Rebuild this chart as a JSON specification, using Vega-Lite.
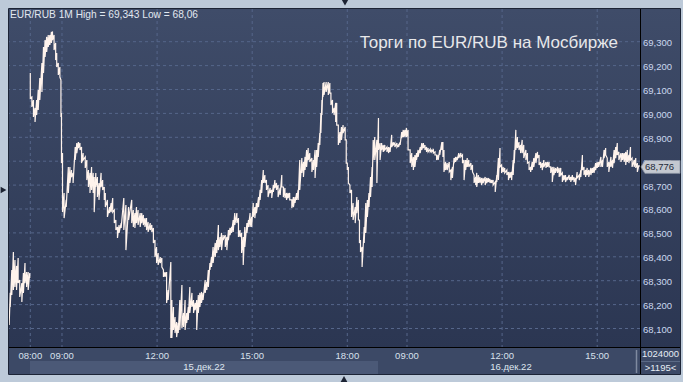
{
 "$schema": "https://vega.github.io/schema/vega-lite/v6.json",
 "width": 631,
 "height": 338,
 "autosize": {"type": "none"},
 "padding": {"left": 9, "top": 9, "right": 43, "bottom": 35},
 "background": "#bdcad9",
 "config": {"font": "Liberation Sans", "view": {"stroke": null, "fill": null}},
 "datasets": {
  "xt": [
   {"t": 0, "lab": "08:00"}, {"t": 60, "lab": "09:00"}, {"t": 240, "lab": "12:00"}, {"t": 420, "lab": "15:00"},
   {"t": 600, "lab": "18:00"}, {"t": 713, "lab": "09:00"}, {"t": 893, "lab": "12:00"}, {"t": 1073, "lab": "15:00"}
  ],
  "yt": [
   {"v": 68.1, "lab": "68,100"}, {"v": 68.2, "lab": "68,200"}, {"v": 68.3, "lab": "68,300"}, {"v": 68.4, "lab": "68,400"},
   {"v": 68.5, "lab": "68,500"}, {"v": 68.6, "lab": "68,600"}, {"v": 68.7, "lab": "68,700"}, {"v": 68.8, "lab": "68,800"},
   {"v": 68.9, "lab": "68,900"}, {"v": 69.0, "lab": "69,000"}, {"v": 69.1, "lab": "69,100"}, {"v": 69.2, "lab": "69,200"},
   {"v": 69.3, "lab": "69,300"}
  ],
  "px": [
   {"t":-40,"h":68.165,"l":68.115,"s":"a"},
   {"t":-38,"h":68.249,"l":68.190,"s":"a"},
   {"t":-35,"h":68.345,"l":68.240,"s":"a"},
   {"t":-32,"h":68.420,"l":68.261,"s":"a"},
   {"t":-29,"h":68.387,"l":68.274,"s":"a"},
   {"t":-26,"h":68.362,"l":68.261,"s":"a"},
   {"t":-23,"h":68.395,"l":68.290,"s":"a"},
   {"t":-20,"h":68.303,"l":68.232,"s":"a"},
   {"t":-16,"h":68.290,"l":68.211,"s":"a"},
   {"t":-13,"h":68.332,"l":68.249,"s":"a"},
   {"t":-10,"h":68.374,"l":68.290,"s":"a"},
   {"t":-7,"h":68.336,"l":68.274,"s":"a"},
   {"t":-4,"h":68.336,"l":68.261,"s":"a"},
   {"t":-1,"h":68.332,"l":68.311,"s":"a"},
   {"t":0,"h":69.169,"l":69.064,"s":"b"},
   {"t":3,"h":69.069,"l":69.027,"s":"b"},
   {"t":6,"h":69.056,"l":68.985,"s":"b"},
   {"t":9,"h":69.023,"l":68.964,"s":"b"},
   {"t":12,"h":69.056,"l":68.993,"s":"b"},
   {"t":15,"h":69.098,"l":69.014,"s":"b"},
   {"t":18,"h":69.148,"l":69.056,"s":"b"},
   {"t":22,"h":69.211,"l":69.090,"s":"b"},
   {"t":25,"h":69.278,"l":69.169,"s":"b"},
   {"t":28,"h":69.307,"l":69.236,"s":"b"},
   {"t":31,"h":69.320,"l":69.257,"s":"b"},
   {"t":34,"h":69.328,"l":69.278,"s":"b"},
   {"t":37,"h":69.328,"l":69.286,"s":"b"},
   {"t":40,"h":69.341,"l":69.295,"s":"b"},
   {"t":42,"h":69.343,"l":69.307,"s":"b"},
   {"t":45,"h":69.328,"l":69.265,"s":"b"},
   {"t":48,"h":69.295,"l":69.223,"s":"b"},
   {"t":50,"h":69.253,"l":69.194,"s":"b"},
   {"t":53,"h":69.211,"l":69.161,"s":"b"},
   {"t":56,"h":69.194,"l":69.152,"s":"b"},
   {"t":58,"h":69.140,"l":68.985,"s":"b"},
   {"t":59,"h":69.002,"l":68.792,"s":"b"},
   {"t":61,"h":68.834,"l":68.587,"s":"b"},
   {"t":64,"h":68.667,"l":68.562,"s":"b"},
   {"t":68,"h":68.638,"l":68.608,"s":"b"},
   {"t":72,"h":68.776,"l":68.667,"s":"b"},
   {"t":75,"h":68.776,"l":68.709,"s":"b"},
   {"t":78,"h":68.763,"l":68.734,"s":"b"},
   {"t":81,"h":68.751,"l":68.709,"s":"b"},
   {"t":85,"h":68.859,"l":68.805,"s":"b"},
   {"t":88,"h":68.876,"l":68.834,"s":"b"},
   {"t":91,"h":68.880,"l":68.855,"s":"b"},
   {"t":94,"h":68.876,"l":68.847,"s":"b"},
   {"t":97,"h":68.859,"l":68.792,"s":"b"},
   {"t":100,"h":68.834,"l":68.805,"s":"b"},
   {"t":104,"h":68.818,"l":68.772,"s":"b"},
   {"t":107,"h":68.805,"l":68.721,"s":"b"},
   {"t":110,"h":68.763,"l":68.692,"s":"b"},
   {"t":113,"h":68.751,"l":68.667,"s":"b"},
   {"t":116,"h":68.776,"l":68.680,"s":"b"},
   {"t":119,"h":68.751,"l":68.667,"s":"b"},
   {"t":121,"h":68.734,"l":68.587,"s":"b"},
   {"t":124,"h":68.751,"l":68.692,"s":"b"},
   {"t":127,"h":68.734,"l":68.650,"s":"b"},
   {"t":130,"h":68.709,"l":68.638,"s":"b"},
   {"t":134,"h":68.751,"l":68.692,"s":"b"},
   {"t":137,"h":68.721,"l":68.680,"s":"b"},
   {"t":140,"h":68.692,"l":68.638,"s":"b"},
   {"t":142,"h":68.667,"l":68.608,"s":"b"},
   {"t":146,"h":68.638,"l":68.567,"s":"b"},
   {"t":150,"h":68.608,"l":68.583,"s":"b"},
   {"t":153,"h":68.625,"l":68.587,"s":"b"},
   {"t":156,"h":68.646,"l":68.587,"s":"b"},
   {"t":159,"h":68.596,"l":68.541,"s":"b"},
   {"t":162,"h":68.554,"l":68.512,"s":"b"},
   {"t":165,"h":68.525,"l":68.479,"s":"b"},
   {"t":168,"h":68.533,"l":68.500,"s":"b"},
   {"t":172,"h":68.541,"l":68.521,"s":"b"},
   {"t":177,"h":68.646,"l":68.512,"s":"b"},
   {"t":181,"h":68.617,"l":68.428,"s":"b"},
   {"t":186,"h":68.608,"l":68.554,"s":"b"},
   {"t":192,"h":68.638,"l":68.541,"s":"b"},
   {"t":195,"h":68.596,"l":68.525,"s":"b"},
   {"t":198,"h":68.583,"l":68.521,"s":"b"},
   {"t":201,"h":68.608,"l":68.541,"s":"b"},
   {"t":204,"h":68.596,"l":68.533,"s":"b"},
   {"t":208,"h":68.583,"l":68.525,"s":"b"},
   {"t":211,"h":68.583,"l":68.541,"s":"b"},
   {"t":214,"h":68.575,"l":68.533,"s":"b"},
   {"t":217,"h":68.562,"l":68.525,"s":"b"},
   {"t":220,"h":68.562,"l":68.512,"s":"b"},
   {"t":223,"h":68.546,"l":68.504,"s":"b"},
   {"t":227,"h":68.541,"l":68.512,"s":"b"},
   {"t":230,"h":68.533,"l":68.504,"s":"b"},
   {"t":233,"h":68.521,"l":68.458,"s":"b"},
   {"t":236,"h":68.470,"l":68.399,"s":"b"},
   {"t":239,"h":68.441,"l":68.374,"s":"b"},
   {"t":242,"h":68.416,"l":68.366,"s":"b"},
   {"t":246,"h":68.399,"l":68.374,"s":"b"},
   {"t":249,"h":68.395,"l":68.357,"s":"b"},
   {"t":252,"h":68.345,"l":68.316,"s":"b"},
   {"t":255,"h":68.336,"l":68.316,"s":"b"},
   {"t":258,"h":68.336,"l":68.207,"s":"b"},
   {"t":261,"h":68.261,"l":68.219,"s":"b"},
   {"t":266,"h":68.378,"l":68.060,"s":"b"},
   {"t":268,"h":68.219,"l":68.060,"s":"b"},
   {"t":271,"h":68.190,"l":68.094,"s":"b"},
   {"t":274,"h":68.148,"l":68.081,"s":"b"},
   {"t":277,"h":68.127,"l":68.064,"s":"b"},
   {"t":280,"h":68.123,"l":68.081,"s":"b"},
   {"t":283,"h":68.219,"l":68.094,"s":"b"},
   {"t":287,"h":68.282,"l":68.102,"s":"b"},
   {"t":290,"h":68.165,"l":68.106,"s":"b"},
   {"t":293,"h":68.219,"l":68.094,"s":"b"},
   {"t":296,"h":68.165,"l":68.123,"s":"b"},
   {"t":299,"h":68.190,"l":68.136,"s":"b"},
   {"t":302,"h":68.274,"l":68.165,"s":"b"},
   {"t":306,"h":68.249,"l":68.190,"s":"b"},
   {"t":309,"h":68.219,"l":68.165,"s":"b"},
   {"t":312,"h":68.207,"l":68.177,"s":"b"},
   {"t":315,"h":68.219,"l":68.094,"s":"b"},
   {"t":318,"h":68.240,"l":68.165,"s":"b"},
   {"t":321,"h":68.249,"l":68.190,"s":"b"},
   {"t":324,"h":68.253,"l":68.207,"s":"b"},
   {"t":327,"h":68.249,"l":68.219,"s":"b"},
   {"t":331,"h":68.303,"l":68.249,"s":"b"},
   {"t":334,"h":68.295,"l":68.261,"s":"b"},
   {"t":337,"h":68.345,"l":68.274,"s":"b"},
   {"t":340,"h":68.374,"l":68.345,"s":"b"},
   {"t":343,"h":68.399,"l":68.357,"s":"b"},
   {"t":346,"h":68.441,"l":68.374,"s":"b"},
   {"t":350,"h":68.458,"l":68.399,"s":"b"},
   {"t":353,"h":68.470,"l":68.416,"s":"b"},
   {"t":356,"h":68.533,"l":68.428,"s":"b"},
   {"t":359,"h":68.483,"l":68.441,"s":"b"},
   {"t":362,"h":68.500,"l":68.428,"s":"b"},
   {"t":365,"h":68.491,"l":68.470,"s":"b"},
   {"t":369,"h":68.491,"l":68.441,"s":"b"},
   {"t":372,"h":68.483,"l":68.428,"s":"b"},
   {"t":375,"h":68.512,"l":68.470,"s":"b"},
   {"t":378,"h":68.521,"l":68.491,"s":"b"},
   {"t":381,"h":68.525,"l":68.500,"s":"b"},
   {"t":384,"h":68.554,"l":68.504,"s":"b"},
   {"t":387,"h":68.583,"l":68.533,"s":"b"},
   {"t":391,"h":68.583,"l":68.541,"s":"b"},
   {"t":394,"h":68.562,"l":68.483,"s":"b"},
   {"t":397,"h":68.512,"l":68.483,"s":"b"},
   {"t":400,"h":68.500,"l":68.416,"s":"b"},
   {"t":403,"h":68.483,"l":68.366,"s":"b"},
   {"t":406,"h":68.525,"l":68.441,"s":"b"},
   {"t":410,"h":68.541,"l":68.500,"s":"b"},
   {"t":413,"h":68.554,"l":68.525,"s":"b"},
   {"t":416,"h":68.583,"l":68.525,"s":"b"},
   {"t":419,"h":68.567,"l":68.525,"s":"b"},
   {"t":422,"h":68.625,"l":68.567,"s":"b"},
   {"t":425,"h":68.608,"l":68.562,"s":"b"},
   {"t":428,"h":68.625,"l":68.583,"s":"b"},
   {"t":432,"h":68.650,"l":68.608,"s":"b"},
   {"t":435,"h":68.680,"l":68.638,"s":"b"},
   {"t":438,"h":68.721,"l":68.667,"s":"b"},
   {"t":441,"h":68.763,"l":68.709,"s":"b"},
   {"t":444,"h":68.742,"l":68.709,"s":"b"},
   {"t":447,"h":68.721,"l":68.680,"s":"b"},
   {"t":450,"h":68.700,"l":68.650,"s":"b"},
   {"t":454,"h":68.688,"l":68.667,"s":"b"},
   {"t":457,"h":68.680,"l":68.646,"s":"b"},
   {"t":460,"h":68.700,"l":68.671,"s":"b"},
   {"t":463,"h":68.721,"l":68.688,"s":"b"},
   {"t":466,"h":68.709,"l":68.680,"s":"b"},
   {"t":469,"h":68.700,"l":68.650,"s":"b"},
   {"t":473,"h":68.688,"l":68.659,"s":"b"},
   {"t":476,"h":68.742,"l":68.692,"s":"b"},
   {"t":479,"h":68.692,"l":68.650,"s":"b"},
   {"t":482,"h":68.688,"l":68.646,"s":"b"},
   {"t":485,"h":68.667,"l":68.638,"s":"b"},
   {"t":488,"h":68.667,"l":68.646,"s":"b"},
   {"t":491,"h":68.667,"l":68.638,"s":"b"},
   {"t":495,"h":68.638,"l":68.604,"s":"b"},
   {"t":498,"h":68.650,"l":68.608,"s":"b"},
   {"t":501,"h":68.650,"l":68.625,"s":"b"},
   {"t":504,"h":68.667,"l":68.638,"s":"b"},
   {"t":507,"h":68.680,"l":68.638,"s":"b"},
   {"t":510,"h":68.805,"l":68.680,"s":"b"},
   {"t":514,"h":68.813,"l":68.751,"s":"b"},
   {"t":517,"h":68.797,"l":68.734,"s":"b"},
   {"t":520,"h":68.818,"l":68.763,"s":"b"},
   {"t":523,"h":68.847,"l":68.776,"s":"b"},
   {"t":526,"h":68.855,"l":68.805,"s":"b"},
   {"t":529,"h":68.834,"l":68.797,"s":"b"},
   {"t":533,"h":68.813,"l":68.755,"s":"b"},
   {"t":536,"h":68.805,"l":68.763,"s":"b"},
   {"t":539,"h":68.847,"l":68.730,"s":"b"},
   {"t":542,"h":68.847,"l":68.776,"s":"b"},
   {"t":545,"h":68.876,"l":68.818,"s":"b"},
   {"t":548,"h":68.918,"l":68.868,"s":"b"},
   {"t":550,"h":69.002,"l":68.918,"s":"b"},
   {"t":552,"h":69.056,"l":68.993,"s":"b"},
   {"t":554,"h":69.127,"l":69.069,"s":"b"},
   {"t":556,"h":69.131,"l":69.077,"s":"b"},
   {"t":560,"h":69.131,"l":69.090,"s":"b"},
   {"t":564,"h":69.131,"l":69.077,"s":"b"},
   {"t":567,"h":69.127,"l":69.085,"s":"b"},
   {"t":569,"h":69.085,"l":69.035,"s":"b"},
   {"t":572,"h":69.056,"l":69.002,"s":"b"},
   {"t":575,"h":69.023,"l":68.993,"s":"b"},
   {"t":578,"h":69.044,"l":68.964,"s":"b"},
   {"t":580,"h":69.044,"l":68.951,"s":"b"},
   {"t":583,"h":68.951,"l":68.868,"s":"b"},
   {"t":586,"h":68.922,"l":68.876,"s":"b"},
   {"t":589,"h":68.943,"l":68.889,"s":"b"},
   {"t":592,"h":68.951,"l":68.918,"s":"b"},
   {"t":596,"h":68.943,"l":68.889,"s":"b"},
   {"t":598,"h":68.889,"l":68.792,"s":"b"},
   {"t":600,"h":68.792,"l":68.763,"s":"b"},
   {"t":602,"h":68.776,"l":68.709,"s":"b"},
   {"t":605,"h":68.700,"l":68.667,"s":"b"},
   {"t":608,"h":68.680,"l":68.567,"s":"b"},
   {"t":611,"h":68.625,"l":68.554,"s":"b"},
   {"t":615,"h":68.608,"l":68.541,"s":"b"},
   {"t":618,"h":68.650,"l":68.583,"s":"b"},
   {"t":621,"h":68.638,"l":68.554,"s":"b"},
   {"t":623,"h":68.554,"l":68.458,"s":"b"},
   {"t":625,"h":68.470,"l":68.420,"s":"b"},
   {"t":628,"h":68.441,"l":68.357,"s":"b"},
   {"t":632,"h":68.525,"l":68.458,"s":"b"},
   {"t":635,"h":68.625,"l":68.500,"s":"b"},
   {"t":638,"h":68.638,"l":68.567,"s":"b"},
   {"t":641,"h":68.667,"l":68.608,"s":"b"},
   {"t":644,"h":68.734,"l":68.650,"s":"b"},
   {"t":647,"h":68.776,"l":68.692,"s":"b"},
   {"t":649,"h":68.889,"l":68.805,"s":"b"},
   {"t":652,"h":68.901,"l":68.805,"s":"b"},
   {"t":656,"h":68.889,"l":68.709,"s":"b"},
   {"t":659,"h":68.981,"l":68.847,"s":"b"},
   {"t":662,"h":68.876,"l":68.805,"s":"b"},
   {"t":665,"h":68.876,"l":68.847,"s":"b"},
   {"t":668,"h":68.868,"l":68.839,"s":"b"},
   {"t":671,"h":68.868,"l":68.847,"s":"b"},
   {"t":675,"h":68.859,"l":68.839,"s":"b"},
   {"t":678,"h":68.859,"l":68.834,"s":"b"},
   {"t":681,"h":68.859,"l":68.839,"s":"b"},
   {"t":684,"h":68.910,"l":68.859,"s":"b"},
   {"t":687,"h":68.880,"l":68.868,"s":"b"},
   {"t":690,"h":68.876,"l":68.859,"s":"b"},
   {"t":694,"h":68.876,"l":68.859,"s":"b"},
   {"t":697,"h":68.868,"l":68.859,"s":"b"},
   {"t":700,"h":68.880,"l":68.868,"s":"b"},
   {"t":703,"h":68.922,"l":68.897,"s":"b"},
   {"t":706,"h":68.931,"l":68.901,"s":"b"},
   {"t":709,"h":68.931,"l":68.901,"s":"b"},
   {"t":712,"h":68.939,"l":68.901,"s":"b"},
   {"t":715,"h":68.931,"l":68.847,"s":"b"},
   {"t":719,"h":68.847,"l":68.792,"s":"b"},
   {"t":722,"h":68.834,"l":68.776,"s":"b"},
   {"t":725,"h":68.818,"l":68.763,"s":"b"},
   {"t":728,"h":68.826,"l":68.776,"s":"b"},
   {"t":731,"h":68.834,"l":68.805,"s":"b"},
   {"t":734,"h":68.847,"l":68.818,"s":"b"},
   {"t":738,"h":68.859,"l":68.834,"s":"b"},
   {"t":741,"h":68.876,"l":68.847,"s":"b"},
   {"t":744,"h":68.876,"l":68.855,"s":"b"},
   {"t":747,"h":68.868,"l":68.847,"s":"b"},
   {"t":750,"h":68.859,"l":68.839,"s":"b"},
   {"t":753,"h":68.855,"l":68.839,"s":"b"},
   {"t":757,"h":68.851,"l":68.839,"s":"b"},
   {"t":760,"h":68.847,"l":68.839,"s":"b"},
   {"t":763,"h":68.847,"l":68.834,"s":"b"},
   {"t":766,"h":68.839,"l":68.826,"s":"b"},
   {"t":769,"h":68.826,"l":68.805,"s":"b"},
   {"t":772,"h":68.826,"l":68.805,"s":"b"},
   {"t":775,"h":68.847,"l":68.826,"s":"b"},
   {"t":779,"h":68.880,"l":68.847,"s":"b"},
   {"t":781,"h":68.880,"l":68.818,"s":"b"},
   {"t":783,"h":68.847,"l":68.755,"s":"b"},
   {"t":786,"h":68.797,"l":68.763,"s":"b"},
   {"t":789,"h":68.792,"l":68.763,"s":"b"},
   {"t":793,"h":68.797,"l":68.755,"s":"b"},
   {"t":796,"h":68.763,"l":68.721,"s":"b"},
   {"t":799,"h":68.776,"l":68.730,"s":"b"},
   {"t":802,"h":68.813,"l":68.792,"s":"b"},
   {"t":805,"h":68.818,"l":68.797,"s":"b"},
   {"t":808,"h":68.818,"l":68.805,"s":"b"},
   {"t":811,"h":68.834,"l":68.813,"s":"b"},
   {"t":815,"h":68.834,"l":68.818,"s":"b"},
   {"t":818,"h":68.826,"l":68.792,"s":"b"},
   {"t":821,"h":68.805,"l":68.721,"s":"b"},
   {"t":824,"h":68.805,"l":68.763,"s":"b"},
   {"t":827,"h":68.813,"l":68.776,"s":"b"},
   {"t":830,"h":68.805,"l":68.776,"s":"b"},
   {"t":834,"h":68.792,"l":68.763,"s":"b"},
   {"t":837,"h":68.784,"l":68.755,"s":"b"},
   {"t":840,"h":68.742,"l":68.709,"s":"b"},
   {"t":843,"h":68.734,"l":68.700,"s":"b"},
   {"t":845,"h":68.751,"l":68.692,"s":"b"},
   {"t":848,"h":68.742,"l":68.709,"s":"b"},
   {"t":851,"h":68.734,"l":68.709,"s":"b"},
   {"t":854,"h":68.730,"l":68.700,"s":"b"},
   {"t":857,"h":68.730,"l":68.709,"s":"b"},
   {"t":861,"h":68.734,"l":68.700,"s":"b"},
   {"t":864,"h":68.730,"l":68.709,"s":"b"},
   {"t":867,"h":68.730,"l":68.713,"s":"b"},
   {"t":870,"h":68.726,"l":68.709,"s":"b"},
   {"t":873,"h":68.721,"l":68.709,"s":"b"},
   {"t":876,"h":68.721,"l":68.700,"s":"b"},
   {"t":880,"h":68.713,"l":68.671,"s":"b"},
   {"t":883,"h":68.742,"l":68.713,"s":"b"},
   {"t":886,"h":68.813,"l":68.721,"s":"b"},
   {"t":889,"h":68.855,"l":68.776,"s":"b"},
   {"t":892,"h":68.784,"l":68.751,"s":"b"},
   {"t":895,"h":68.776,"l":68.755,"s":"b"},
   {"t":898,"h":68.772,"l":68.751,"s":"b"},
   {"t":902,"h":68.763,"l":68.742,"s":"b"},
   {"t":905,"h":68.755,"l":68.721,"s":"b"},
   {"t":908,"h":68.755,"l":68.730,"s":"b"},
   {"t":911,"h":68.755,"l":68.721,"s":"b"},
   {"t":914,"h":68.805,"l":68.742,"s":"b"},
   {"t":916,"h":68.847,"l":68.792,"s":"b"},
   {"t":919,"h":68.931,"l":68.847,"s":"b"},
   {"t":922,"h":68.901,"l":68.855,"s":"b"},
   {"t":925,"h":68.880,"l":68.847,"s":"b"},
   {"t":928,"h":68.868,"l":68.834,"s":"b"},
   {"t":931,"h":68.889,"l":68.834,"s":"b"},
   {"t":934,"h":68.868,"l":68.813,"s":"b"},
   {"t":938,"h":68.847,"l":68.805,"s":"b"},
   {"t":941,"h":68.834,"l":68.792,"s":"b"},
   {"t":944,"h":68.797,"l":68.763,"s":"b"},
   {"t":947,"h":68.776,"l":68.755,"s":"b"},
   {"t":950,"h":68.797,"l":68.763,"s":"b"},
   {"t":953,"h":68.813,"l":68.776,"s":"b"},
   {"t":957,"h":68.834,"l":68.792,"s":"b"},
   {"t":960,"h":68.839,"l":68.813,"s":"b"},
   {"t":963,"h":68.826,"l":68.784,"s":"b"},
   {"t":966,"h":68.797,"l":68.772,"s":"b"},
   {"t":969,"h":68.792,"l":68.763,"s":"b"},
   {"t":972,"h":68.805,"l":68.776,"s":"b"},
   {"t":976,"h":68.797,"l":68.772,"s":"b"},
   {"t":979,"h":68.797,"l":68.776,"s":"b"},
   {"t":982,"h":68.797,"l":68.776,"s":"b"},
   {"t":985,"h":68.776,"l":68.751,"s":"b"},
   {"t":988,"h":68.776,"l":68.713,"s":"b"},
   {"t":991,"h":68.776,"l":68.742,"s":"b"},
   {"t":994,"h":68.772,"l":68.751,"s":"b"},
   {"t":998,"h":68.776,"l":68.751,"s":"b"},
   {"t":1001,"h":68.772,"l":68.734,"s":"b"},
   {"t":1004,"h":68.772,"l":68.742,"s":"b"},
   {"t":1007,"h":68.751,"l":68.713,"s":"b"},
   {"t":1010,"h":68.742,"l":68.721,"s":"b"},
   {"t":1013,"h":68.742,"l":68.713,"s":"b"},
   {"t":1016,"h":68.734,"l":68.721,"s":"b"},
   {"t":1020,"h":68.742,"l":68.721,"s":"b"},
   {"t":1023,"h":68.734,"l":68.713,"s":"b"},
   {"t":1026,"h":68.742,"l":68.721,"s":"b"},
   {"t":1029,"h":68.734,"l":68.713,"s":"b"},
   {"t":1032,"h":68.730,"l":68.700,"s":"b"},
   {"t":1035,"h":68.755,"l":68.730,"s":"b"},
   {"t":1039,"h":68.742,"l":68.721,"s":"b"},
   {"t":1042,"h":68.763,"l":68.734,"s":"b"},
   {"t":1045,"h":68.826,"l":68.763,"s":"b"},
   {"t":1048,"h":68.776,"l":68.742,"s":"b"},
   {"t":1051,"h":68.763,"l":68.734,"s":"b"},
   {"t":1054,"h":68.772,"l":68.742,"s":"b"},
   {"t":1057,"h":68.763,"l":68.734,"s":"b"},
   {"t":1061,"h":68.772,"l":68.742,"s":"b"},
   {"t":1064,"h":68.772,"l":68.751,"s":"b"},
   {"t":1067,"h":68.776,"l":68.751,"s":"b"},
   {"t":1070,"h":68.792,"l":68.763,"s":"b"},
   {"t":1073,"h":68.797,"l":68.772,"s":"b"},
   {"t":1076,"h":68.797,"l":68.776,"s":"b"},
   {"t":1080,"h":68.818,"l":68.776,"s":"b"},
   {"t":1083,"h":68.805,"l":68.776,"s":"b"},
   {"t":1086,"h":68.847,"l":68.813,"s":"b"},
   {"t":1089,"h":68.855,"l":68.826,"s":"b"},
   {"t":1092,"h":68.813,"l":68.776,"s":"b"},
   {"t":1095,"h":68.797,"l":68.755,"s":"b"},
   {"t":1099,"h":68.818,"l":68.776,"s":"b"},
   {"t":1102,"h":68.805,"l":68.772,"s":"b"},
   {"t":1105,"h":68.847,"l":68.792,"s":"b"},
   {"t":1108,"h":68.859,"l":68.813,"s":"b"},
   {"t":1111,"h":68.876,"l":68.826,"s":"b"},
   {"t":1114,"h":68.839,"l":68.805,"s":"b"},
   {"t":1118,"h":68.834,"l":68.797,"s":"b"},
   {"t":1121,"h":68.834,"l":68.805,"s":"b"},
   {"t":1124,"h":68.834,"l":68.797,"s":"b"},
   {"t":1127,"h":68.839,"l":68.784,"s":"b"},
   {"t":1130,"h":68.847,"l":68.797,"s":"b"},
   {"t":1133,"h":68.826,"l":68.792,"s":"b"},
   {"t":1136,"h":68.859,"l":68.805,"s":"b"},
   {"t":1139,"h":68.813,"l":68.776,"s":"b"},
   {"t":1143,"h":68.805,"l":68.776,"s":"b"},
   {"t":1146,"h":68.813,"l":68.772,"s":"b"},
   {"t":1149,"h":68.792,"l":68.755,"s":"b"},
   {"t":1152,"h":68.784,"l":68.776,"s":"b"}
  ]
 },
 "layer": [
  {
   "data": {"values": [{}]},
   "mark": {"type": "rect", "fill": {"gradient": "linear", "x1": 0, "y1": 0, "x2": 0, "y2": 1, "stops": [{"offset": 0, "color": "#3f4c69"}, {"offset": 1, "color": "#2b3652"}]}},
   "encoding": {"x": {"value": 0}, "x2": {"value": 671}, "y": {"value": 0}, "y2": {"value": 339}}
  },
  {
   "data": {"values": [{}]},
   "mark": {"type": "rect", "fill": "#3c4966"},
   "encoding": {"x": {"value": 0}, "x2": {"value": 671}, "y": {"value": 339}, "y2": {"value": 365}}
  },
  {
   "data": {"values": [{}]},
   "mark": {"type": "rect", "fill": "#4b5977"},
   "encoding": {"x": {"value": 21}, "x2": {"value": 369}, "y": {"value": 352}, "y2": {"value": 365}}
  },
  {
   "data": {"name": "xt"},
   "mark": {"type": "rule", "color": "#56668a", "strokeDash": [3, 3], "strokeWidth": 1},
   "encoding": {
    "x": {"field": "t", "type": "quantitative", "scale": {"domain": [-40.3, 1154], "nice": false, "zero": false}, "axis": null}
   }
  },
  {
   "data": {"name": "yt"},
   "mark": {"type": "rule", "color": "#56668a", "strokeDash": [3, 3], "strokeWidth": 1},
   "encoding": {
    "y": {"field": "v", "type": "quantitative", "scale": {"domain": [68.0226, 69.4368], "nice": false, "zero": false}, "axis": null}
   }
  },
  {
   "data": {"name": "px"},
   "transform": [{"fold": ["h", "l"], "as": ["k", "v"]}],
   "mark": {"type": "line", "color": "#fff3ec", "strokeWidth": 1.2},
   "encoding": {
    "x": {"field": "t", "type": "quantitative", "scale": {"domain": [-40.3, 1154], "nice": false, "zero": false}, "axis": null},
    "y": {"field": "v", "type": "quantitative", "scale": {"domain": [68.0226, 69.4368], "nice": false, "zero": false}, "axis": null},
    "detail": {"field": "s", "type": "nominal"},
    "order": [{"field": "t", "type": "quantitative"}, {"field": "k", "type": "nominal"}]
   }
  },
  {
   "data": {"values": [{}]},
   "mark": {"type": "rule", "color": "#000000", "strokeWidth": 1},
   "encoding": {"x": {"value": 631.5}, "y": {"value": 0}, "y2": {"value": 365}}
  },
  {
   "data": {"values": [{}]},
   "mark": {"type": "rule", "color": "#000000", "strokeWidth": 1},
   "encoding": {"x": {"value": 0}, "x2": {"value": 671}, "y": {"value": 338.5}}
  },
  {
   "data": {"values": [{}]},
   "mark": {"type": "rule", "color": "#7f8aa0", "strokeWidth": 1.5},
   "encoding": {"x": {"value": 627.5}, "y": {"value": 341}, "y2": {"value": 364}}
  },
  {
   "data": {"values": [{}]},
   "mark": {"type": "rule", "color": "#5b6a86", "strokeWidth": 1},
   "encoding": {"x": {"value": 632}, "x2": {"value": 671}, "y": {"value": 352.5}}
  },
  {
   "data": {"values": [{}]},
   "mark": {"type": "rect", "fill": null, "stroke": "#1c2436", "strokeWidth": 1},
   "encoding": {"x": {"value": -0.5}, "x2": {"value": 671.5}, "y": {"value": -0.5}, "y2": {"value": 365.5}}
  },
  {
   "data": {"name": "xt"},
   "mark": {"type": "text", "align": "center", "baseline": "middle", "fontSize": 9.5, "color": "#d8e0ec"},
   "encoding": {
    "x": {"field": "t", "type": "quantitative", "scale": {"domain": [-40.3, 1154], "nice": false, "zero": false}, "axis": null},
    "y": {"datum": 67.987, "type": "quantitative", "scale": {"domain": [68.0226, 69.4368], "nice": false, "zero": false}, "axis": null},
    "text": {"field": "lab", "type": "nominal"}
   }
  },
  {
   "data": {"name": "yt"},
   "mark": {"type": "text", "align": "left", "baseline": "middle", "fontSize": 9.5, "color": "#cbd8ef", "dy": 1.5},
   "encoding": {
    "x": {"value": 634},
    "y": {"field": "v", "type": "quantitative", "scale": {"domain": [68.0226, 69.4368], "nice": false, "zero": false}, "axis": null},
    "text": {"field": "lab", "type": "nominal"}
   }
  },
  {
   "data": {"values": [{}]},
   "mark": {"type": "text", "text": "EUR/RUB 1M High = 69,343 Low = 68,06", "align": "left", "baseline": "alphabetic", "fontSize": 10.2, "color": "#e2e8f0"},
   "encoding": {
    "x": {"datum": -38.4, "type": "quantitative", "scale": {"domain": [-40.3, 1154], "nice": false, "zero": false}, "axis": null},
    "y": {"datum": 69.399, "type": "quantitative", "scale": {"domain": [68.0226, 69.4368], "nice": false, "zero": false}, "axis": null}
   }
  },
  {
   "data": {"values": [{}]},
   "mark": {"type": "text", "text": "Торги по EUR/RUB на Мосбирже", "align": "right", "baseline": "alphabetic", "fontSize": 17, "color": "#e8e8ea"},
   "encoding": {
    "x": {"datum": 1112.4, "type": "quantitative", "scale": {"domain": [-40.3, 1154], "nice": false, "zero": false}, "axis": null},
    "y": {"datum": 69.2736, "type": "quantitative", "scale": {"domain": [68.0226, 69.4368], "nice": false, "zero": false}, "axis": null}
   }
  },
  {
   "data": {"values": [{"t": 328.8, "d": "15.дек.22"}, {"t": 909.8, "d": "16.дек.22"}]},
   "mark": {"type": "text", "align": "center", "baseline": "middle", "fontSize": 9.5, "color": "#dfe6f0"},
   "encoding": {
    "x": {"field": "t", "type": "quantitative", "scale": {"domain": [-40.3, 1154], "nice": false, "zero": false}, "axis": null},
    "y": {"datum": 67.939, "type": "quantitative", "scale": {"domain": [68.0226, 69.4368], "nice": false, "zero": false}, "axis": null},
    "text": {"field": "d", "type": "nominal"}
   }
  },
  {
   "data": {"values": [{"v": 68.776}]},
   "mark": {"type": "point", "shape": "M-1,0L-0.8,-0.33L1,-0.33L1,0.33L-0.8,0.33Z", "filled": true, "fill": "#c4c8d0", "stroke": "#8e96a6", "strokeWidth": 0.8, "size": 1521, "opacity": 1},
   "encoding": {
    "x": {"value": 651.5},
    "y": {"field": "v", "type": "quantitative", "scale": {"domain": [68.0226, 69.4368], "nice": false, "zero": false}, "axis": null}
   }
  },
  {
   "data": {"values": [{"v": 68.776}]},
   "mark": {"type": "text", "text": "68,776", "align": "center", "baseline": "middle", "fontSize": 9.5, "color": "#1e2838"},
   "encoding": {
    "x": {"value": 650.5},
    "y": {"field": "v", "type": "quantitative", "scale": {"domain": [68.0226, 69.4368], "nice": false, "zero": false}, "axis": null}
   }
  },
  {
   "data": {"values": [{}]},
   "mark": {"type": "text", "text": "1024000", "align": "center", "baseline": "middle", "fontSize": 9.5, "color": "#e6ecf4"},
   "encoding": {"x": {"value": 651.5}, "y": {"value": 345}}
  },
  {
   "data": {"values": [{}]},
   "mark": {"type": "text", "text": ">1195<", "align": "center", "baseline": "middle", "fontSize": 9.5, "color": "#e6ecf4"},
   "encoding": {"x": {"value": 651.5}, "y": {"value": 358.5}}
  },
  {
   "data": {"values": [{}]},
   "mark": {"type": "point", "shape": "triangle-right", "filled": true, "color": "#1c2333", "size": 45, "opacity": 1},
   "encoding": {"x": {"value": -5.5}, "y": {"value": 181}}
  },
  {
   "data": {"values": [{}]},
   "mark": {"type": "point", "shape": "triangle-down", "filled": true, "color": "#1c2333", "size": 45, "opacity": 1},
   "encoding": {"x": {"value": 336}, "y": {"value": -6.5}}
  },
  {
   "data": {"values": [{}]},
   "mark": {"type": "point", "shape": "triangle-up", "filled": true, "color": "#1c2333", "size": 45, "opacity": 1},
   "encoding": {"x": {"value": 335}, "y": {"value": 370}}
  }
 ]
}
